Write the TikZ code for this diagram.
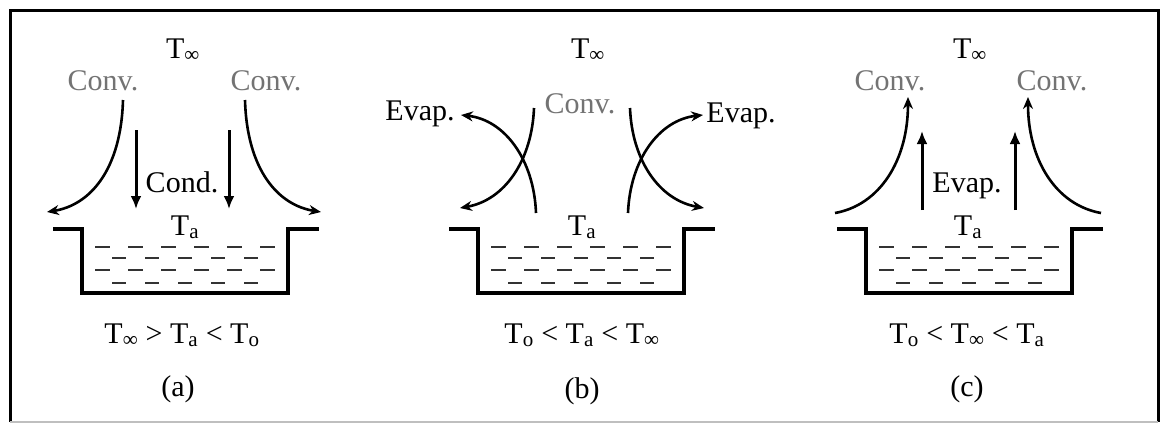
\documentclass[tikz,border=0pt]{standalone}
\usepackage{fontspec}
\setmainfont{Liberation Serif}
\usetikzlibrary{arrows.meta}
\tikzset{
  lbl/.style={anchor=base, inner sep=0pt, font=\fontsize{30}{34}\selectfont},
  convlbl/.style={lbl, text=black!55},
  pan/.style={line width=3.5pt},
  water/.style={line width=2pt, black!80},
  flow/.style={line width=3pt, -{Latex[length=13pt,width=11pt]}},
  bent/.style={line width=2.6pt, -{Stealth[length=12pt,width=10pt]}},
}
% pan with water, centred at x = #1
\newcommand{\drawpan}[1]{%
  \draw[pan] (#1-132,229) -- (#1-103,229) -- (#1-103,293) -- (#1+103,293) -- (#1+103,229) -- (#1+134,229);
  \foreach \dx in {-82.5,-49.5,-16.5,16.5,49.5,82.5} {
    \draw[water] (#1+\dx-7.5,247) -- +(15,0);
    \draw[water] (#1+\dx-7.5,270) -- +(15,0);
  }
  \foreach \dx in {-66,-33,0,33,66} {
    \draw[water] (#1+\dx-7,258) -- +(14,0);
    \draw[water] (#1+\dx-7,283) -- +(14,0);
  }
}
\begin{document}
\begin{tikzpicture}[x=1pt,y=-1pt]
  \useasboundingbox (0,0) rectangle (1160,426);
  % frame
  \draw[line width=3pt] (10,422) -- (10,10) -- (1158,10) -- (1158,422);
  \draw[black!25, line width=1.2pt] (10,422) -- (1158,422);

  % (a)
  \drawpan{185}
  \node[lbl] (tinfa) at (183,58) {T\textsubscript{∞}};
  \node[convlbl] (convla) at (103,90) {Conv.};
  \node[convlbl] (convra) at (266,90) {Conv.};
  \node[lbl] (conda) at (182,192) {Cond.};
  \node[lbl] (taa) at (185,235) {T\textsubscript{a}};
  \node[lbl] (rela) at (182,343) {T\textsubscript{∞} > T\textsubscript{a} < T\textsubscript{o}};
  \node[lbl] (capa) at (178,396) {(a)};
  \draw[bent] (123,100) .. controls (121,170) and (90,205) .. (47,212);
  \draw[bent] (245,100) .. controls (247,170) and (278,205) .. (321,212);
  \draw[flow] (136,130) -- (136,209);
  \draw[flow] (229,130) -- (229,209);

  % (b)
  \drawpan{581}
  \node[lbl] (tinfb) at (588,58) {T\textsubscript{∞}};
  \node[convlbl] (convb) at (580,113) {Conv.};
  \node[lbl] (evaplb) at (420,120) {Evap.};
  \node[lbl] (evaprb) at (741,122) {Evap.};
  \node[lbl] (tab) at (582,235) {T\textsubscript{a}};
  \node[lbl] (relb) at (582,343) {T\textsubscript{o} < T\textsubscript{a} < T\textsubscript{∞}};
  \node[lbl] (capb) at (582,398) {(b)};
  \draw[bent] (534,108) .. controls (532,160) and (505,200) .. (460,208);
  \draw[bent] (536,213) .. controls (534,160) and (505,120) .. (461,115);
  \draw[bent] (630,108) .. controls (632,160) and (659,200) .. (704,208);
  \draw[bent] (628,213) .. controls (630,160) and (659,120) .. (703,115);

  % (c)
  \drawpan{969}
  \node[lbl] (tinfc) at (970,58) {T\textsubscript{∞}};
  \node[convlbl] (convlc) at (890,90) {Conv.};
  \node[convlbl] (convrc) at (1052,90) {Conv.};
  \node[lbl] (evapc) at (967,192) {Evap.};
  \node[lbl] (tac) at (968,235) {T\textsubscript{a}};
  \node[lbl] (relc) at (967,343) {T\textsubscript{o} < T\textsubscript{∞} < T\textsubscript{a}};
  \node[lbl] (capc) at (967,396) {(c)};
  \draw[bent] (835,213) .. controls (880,205) and (908,160) .. (908,97);
  \draw[bent] (1101,213) .. controls (1056,205) and (1028,160) .. (1028,97);
  \draw[flow] (922,210) -- (922,131);
  \draw[flow] (1015,210) -- (1015,131);
\end{tikzpicture}
\end{document}
